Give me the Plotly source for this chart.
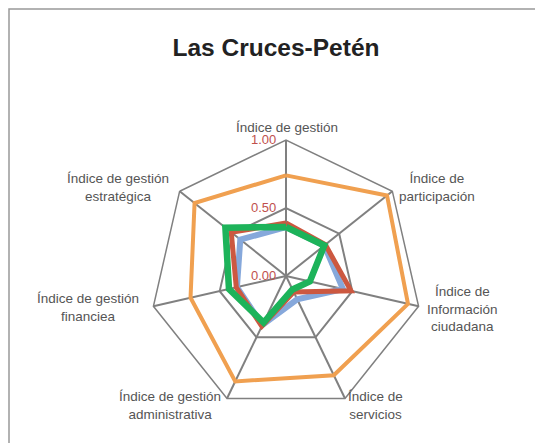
import plotly.graph_objects as go

# axis labels (clockwise from top)
categories = [
    "Índice de gestión",
    "Índice de<br>participación",
    "Índice de<br>Información<br>ciudadana",
    "Índice de<br>servicios",
    "Índice de gestión<br>administrativa",
    "Índice de gestión<br>financiea",
    "Índice de gestión<br>estratégica",
]

# series values
orange_vals = [0.74, 0.95, 0.92, 0.81, 0.86, 0.72, 0.86]
blue_vals = [0.36, 0.36, 0.43, 0.19, 0.40, 0.37, 0.43]
red_vals = [0.39, 0.37, 0.49, 0.13, 0.41, 0.375, 0.515]
green_vals = [0.36, 0.36, 0.18, 0.11, 0.38, 0.43, 0.57]

tick_vals = [0, 0.5, 1.0]
tick_text = ["0.00", "0.50", "1.00"]

# where the category labels sit (pixel centres, screen coords)
label_pos = [(287, 127), (437, 188), (462, 309), (375, 405),
             (170, 405), (88, 307), (118, 188)]


def closed(vals):
    return vals + vals[:1]


fig = go.Figure()

series = [
    (orange_vals, "#F0A050", 4),
    (blue_vals, "#86A8DB", 6),
    (red_vals, "#CC5840", 5),
    (green_vals, "#1DB35A", 6.5),
]
for vals, color, width in series:
    fig.add_trace(
        go.Scatterpolar(
            r=closed(vals),
            theta=closed(categories),
            mode="lines",
            line=dict(color=color, width=width),
            showlegend=False,
            hoverinfo="skip",
        )
    )

# page body adds an 8px margin, so positions are shifted back by 8
off = 8
cx, cy, rad = 286 - off, 276 - off, 136
W, H = 543, 443

for text, (px, py) in zip(categories, label_pos):
    fig.add_annotation(
        text=text,
        xref="paper",
        yref="paper",
        x=(px - off) / W,
        y=1 - (py - off) / H,
        xanchor="center",
        yanchor="middle",
        align="center",
        showarrow=False,
        font=dict(size=13.5, color="#555555"),
    )

fig.update_layout(
    width=W,
    height=H,
    margin=dict(l=0, r=0, t=0, b=0),
    paper_bgcolor="white",
    plot_bgcolor="white",
    font=dict(family="Liberation Sans, Arial, sans-serif", size=12, color="#555555"),
    title=dict(
        text="<b>Las Cruces-Petén</b>",
        x=(276 - off) / W,
        xanchor="center",
        y=1 - (47 - off) / H,
        yanchor="middle",
        font=dict(size=24.5, color="#222222"),
    ),
    polar=dict(
        domain=dict(
            x=[(cx - rad) / W, (cx + rad) / W],
            y=[(H - cy - rad) / H, (H - cy + rad) / H],
        ),
        gridshape="linear",
        bgcolor="white",
        angularaxis=dict(
            direction="clockwise",
            rotation=90,
            showgrid=True,
            gridcolor="#808080",
            gridwidth=1.5,
            showline=True,
            linecolor="#808080",
            linewidth=1.5,
            ticks="",
            showticklabels=False,
        ),
        radialaxis=dict(
            range=[0, 1],
            angle=90,
            side="counterclockwise",
            tickangle=90,
            tickvals=tick_vals,
            ticktext=[t + "\u00a0\u00a0" for t in tick_text],
            tickfont=dict(size=13, color="#C0504D"),
            showline=False,
            showgrid=True,
            gridcolor="#808080",
            gridwidth=1.5,
            ticks="",
        ),
    ),
    shapes=[
        dict(
            type="rect",
            xref="paper",
            yref="paper",
            x0=1 / W,
            x1=1.05,
            y0=-0.05,
            y1=1 - 1 / H,
            line=dict(color="#999999", width=1.5),
        )
    ],
)

fig.write_html("out.html")
